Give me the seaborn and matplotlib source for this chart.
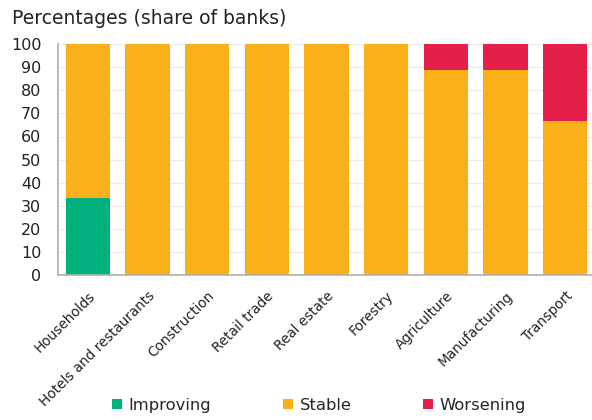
import matplotlib
matplotlib.use("Agg")
import matplotlib.pyplot as plt
import seaborn as sns
import pandas as pd
import numpy as np
from matplotlib.patches import Patch

categories = ["Households", "Hotels and restaurants", "Construction", "Retail trade",
              "Real estate", "Forestry", "Agriculture", "Manufacturing", "Transport"]
improving = [33.3, 0, 0, 0, 0, 0, 0, 0, 0]
stable = [66.7, 100, 100, 100, 100, 100, 88.9, 88.9, 66.7]
worsening = [0, 0, 0, 0, 0, 0, 11.1, 11.1, 33.3]
series_names = ["Improving", "Stable", "Worsening"]
colors = {"Improving": "#00B07D", "Stable": "#FBB01A", "Worsening": "#E31F4A"}

sns.set_style("white")
plt.rcParams["font.family"] = ["DejaVu Sans"]

fig = plt.figure(figsize=(5.92, 4.2), dpi=100)
ax = fig.add_axes([0.098, 0.345, 0.902, 0.55])

imp = np.array(improving)
stb = np.array(stable)
wrs = np.array(worsening)
layers = [("Worsening", imp + stb + wrs), ("Stable", imp + stb), ("Improving", imp)]
for name, vals in layers:
    df = pd.DataFrame({"cat": categories, "val": vals})
    sns.barplot(data=df, x="cat", y="val", order=categories, color=colors[name],
                width=0.74, ax=ax, saturation=1, edgecolor="none", linewidth=0, zorder=2)

ax.set_ylim(0, 100)
ax.set_xlim(-0.5, 8.45)
ax.set_yticks(range(0, 101, 10))
ax.yaxis.grid(True, color="#ececec", linewidth=0.8, zorder=0)
ax.set_axisbelow(True)
ax.set_xlabel("")
ax.set_ylabel("")
for s in ["top", "right"]:
    ax.spines[s].set_visible(False)
for s in ["left", "bottom"]:
    ax.spines[s].set_color("#b0b0b0")
    ax.spines[s].set_linewidth(1.2)
ax.tick_params(axis="y", labelsize=11.5, length=0, pad=12, colors="#222222")
ax.tick_params(axis="x", labelsize=9.8, length=0, pad=10, colors="#222222")
plt.setp(ax.get_xticklabels(), rotation=45, ha="right", rotation_mode="anchor")

fig.text(0.02, 0.955, "Percentages (share of banks)", fontsize=13.5, color="#222222",
         ha="left", va="center")

handles = [Patch(facecolor=colors[n], edgecolor="none", label=n) for n in series_names]
fig.legend(handles=handles, loc="center", bbox_to_anchor=(0.539, 0.035), ncol=3,
           frameon=False, fontsize=11.8, handlelength=0.6, handleheight=0.6,
           handletextpad=0.4, columnspacing=4.4)

fig.savefig("out.png", dpi=100)
